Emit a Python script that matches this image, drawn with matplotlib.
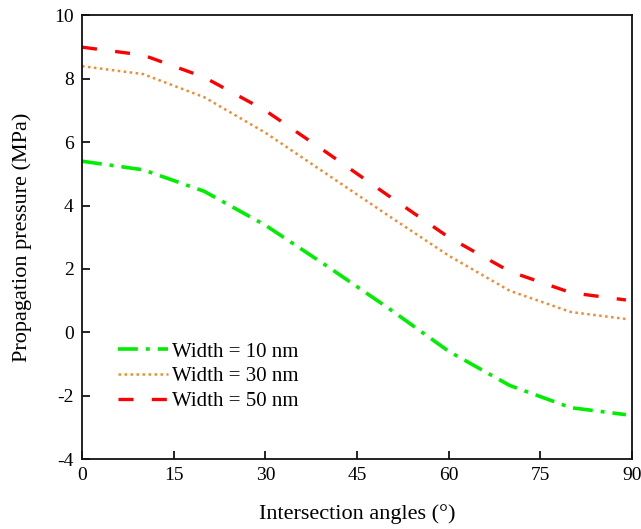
import numpy as np
import matplotlib
matplotlib.use('Agg')
import matplotlib.pyplot as plt

# Data
angles = [0, 10, 20, 30, 40, 50, 60, 70, 80, 89]
width_10 = [5.4, 5.13, 4.45, 3.38, 2.1, 0.78, -0.6, -1.68, -2.38, -2.6]
width_30 = [8.4, 8.15, 7.42, 6.3, 5.0, 3.7, 2.42, 1.31, 0.64, 0.42]
width_50 = [9.0, 8.75, 8.05, 7.0, 5.68, 4.33, 3.0, 1.92, 1.25, 1.02]

labels = ['Width = 10 nm', 'Width = 30 nm', 'Width = 50 nm']
x_ticks = [0, 15, 30, 45, 60, 75, 90]
y_ticks = [-4, -2, 0, 2, 4, 6, 8, 10]

plt.rcParams['font.family'] = ['Liberation Serif', 'DejaVu Serif']
plt.rcParams['axes.unicode_minus'] = False

fig = plt.figure(figsize=(6.41, 5.29), dpi=100)
ax = fig.add_axes([0.128, 0.1323, 0.858, 0.8384])

ax.plot(angles, width_10, color='#00ee00', lw=2.6,
        dashes=(5.5, 2.2, 1.1, 2.2), label=labels[0])
ax.plot(angles, width_30, color='#f28a30', lw=1.8,
        dashes=(1, 1.4), label=labels[1])
ax.plot(angles, width_50, color='#ff0000', lw=2.4,
        dashes=(4.5, 5.5), label=labels[2])

ax.set_xlim(0, 90)
ax.set_ylim(-4, 10)
ax.set_xticks(x_ticks)
ax.set_yticks(y_ticks)
ax.tick_params(direction='in', length=6, width=1.2, labelsize=14,
               top=False, right=False, pad=6)

for sp in ax.spines.values():
    sp.set_linewidth(1.3)
    sp.set_color('#111111')

ax.set_xlabel('Intersection angles (°)', fontsize=16, labelpad=14)
ax.set_ylabel('Propagation pressure (MPa)', fontsize=16, labelpad=16)

ax.legend(loc='center left', bbox_to_anchor=(0.0655, 0.1856),
          frameon=False, fontsize=15, handlelength=2.4,
          handletextpad=0.2, labelspacing=0.25, borderpad=0,
          borderaxespad=0)

fig.savefig('out.png', dpi=100)
